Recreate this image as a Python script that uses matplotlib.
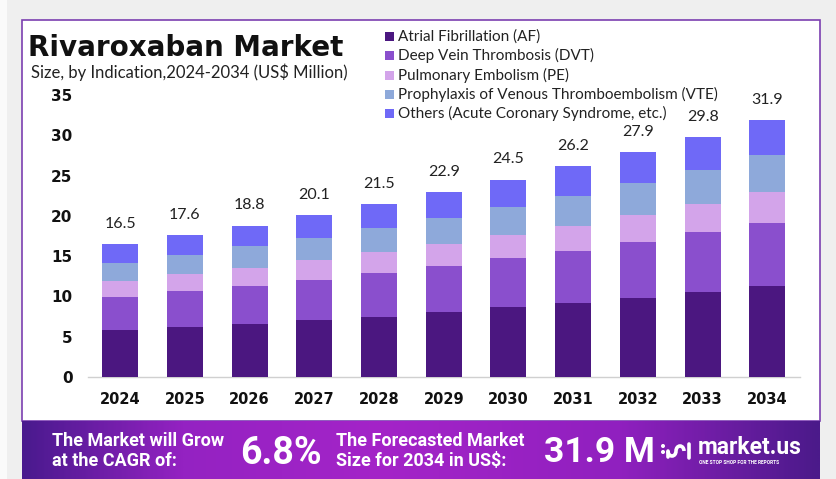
import numpy as np
import matplotlib
matplotlib.use("Agg")
import matplotlib.pyplot as plt
from matplotlib.patches import Rectangle, Arc, Circle
from matplotlib.colors import LinearSegmentedColormap

# ---------------- data ----------------
years = ["2024", "2025", "2026", "2027", "2028", "2029", "2030", "2031", "2032", "2033", "2034"]
af = [5.85, 6.22, 6.55, 7.05, 7.50, 8.05, 8.65, 9.20, 9.79, 10.53, 11.28]
dvt = [4.05, 4.44, 4.75, 5.02, 5.36, 5.72, 6.11, 6.50, 7.00, 7.43, 7.87]
pe = [2.00, 2.11, 2.20, 2.43, 2.61, 2.78, 2.92, 3.10, 3.30, 3.54, 3.82]
vte = [2.30, 2.43, 2.70, 2.75, 3.03, 3.19, 3.42, 3.70, 4.00, 4.20, 4.53]
others = [2.30, 2.40, 2.60, 2.85, 3.00, 3.16, 3.40, 3.70, 3.81, 4.13, 4.40]
totals = [16.5, 17.6, 18.8, 20.1, 21.5, 22.9, 24.5, 26.2, 27.9, 29.8, 31.9]
series_names = ["Atrial Fibrillation (AF)", "Deep Vein Thrombosis (DVT)",
                "Pulmonary Embolism (PE)", "Prophylaxis of Venous Thromboembolism (VTE)",
                "Others (Acute Coronary Syndrome, etc.)"]
yticks = [0, 5, 10, 15, 20, 25, 30, 35]
cagr_text = "6.8%"
forecast_text = "31.9 M"

colors = ["#4b1780", "#8a4fcd", "#d3a4ea", "#8ea9da", "#6f69f7"]

W, H = 836, 479
fig = plt.figure(figsize=(W / 100, H / 100), dpi=100)
fig.patch.set_facecolor("#efefef")

def fx(px):
    return px / W

def fy(py):
    return 1 - py / H

# left white strip
fig.patches.append(Rectangle((0, 0), fx(7), 1, transform=fig.transFigure,
                             facecolor="#fafafa", edgecolor="none", zorder=-2))
# white panel with purple border
fig.patches.append(Rectangle((fx(22), fy(421)), fx(820 - 22), (421 - 20) / H,
                             transform=fig.transFigure, facecolor="white",
                             edgecolor="#7b3fb0", linewidth=1.2, zorder=-1))

# ---------------- main axes ----------------
ax = fig.add_axes([fx(87.7), fy(377), fx(799.7 - 87.7), (377 - 95) / H])
ax.set_facecolor("none")
ax.set_zorder(2)
x = np.arange(len(years))
bw = 0.556
bottom = np.zeros(len(years))
for vals, c, name in zip([af, dvt, pe, vte, others], colors, series_names):
    ax.bar(x, vals, bw, bottom=bottom, color=c, label=name, zorder=3)
    bottom += np.array(vals)

for xi, t, b in zip(x, totals, bottom):
    ax.annotate(f"{t}", (xi, b), xytext=(0, 14.5), textcoords="offset points",
                ha="center", va="center", fontsize=11.5, color="#222222",
                family="Lato")

ax.set_xlim(-0.5, len(years) - 0.5)
ax.set_ylim(0, 35)
ax.set_yticks(yticks)
ax.set_yticklabels([str(v) for v in yticks], fontsize=11, fontweight="bold",
                   family="DejaVu Sans", color="#111111")
ax.set_xticks(x)
ax.set_xticklabels(years, fontsize=10.5, fontweight="bold", family="DejaVu Sans",
                   color="#111111")
ax.tick_params(axis="both", length=0)
ax.tick_params(axis="y", pad=11)
ax.tick_params(axis="x", pad=11)
for s in ["top", "right", "left"]:
    ax.spines[s].set_visible(False)
ax.spines["bottom"].set_color("#d0d0d0")
ax.spines["bottom"].set_linewidth(1)

# ---------------- title ----------------
fig.text(fx(28), fy(48), "Rivaroxaban Market", fontsize=20, fontweight="bold",
         family="DejaVu Sans", color="#111111", va="center", ha="left")
fig.text(fx(31), fy(72), "Size, by Indication,2024-2034 (US$ Million)", fontsize=12,
         family="Lato", color="#222222", va="center", ha="left")

# ---------------- legend ----------------
leg_y0 = 36.7
leg_dy = 19.2
for i, (name, c) in enumerate(zip(series_names, colors)):
    yy = leg_y0 + i * leg_dy
    fig.patches.append(Rectangle((fx(385), fy(yy + 4.5)), fx(9), 9 / H,
                                 transform=fig.transFigure, facecolor=c,
                                 edgecolor="none", zorder=5))
    fig.text(fx(398), fy(yy), name, fontsize=11, family="Lato", color="#222222",
             va="center", ha="left")

# ---------------- banner ----------------
bx = fig.add_axes([fx(22), 0, fx(820 - 22), fy(421)])
grad_cmap = LinearSegmentedColormap.from_list(
    "banner", [(0.0, "#4a1a8e"), (0.2, "#9422c2"), (0.45, "#a424c8"),
               (0.75, "#9020bf"), (1.0, "#4b1a8a")])
grad = np.linspace(0, 1, 400).reshape(1, -1)
bx.imshow(grad, aspect="auto", cmap=grad_cmap, extent=[22, 820, 479, 421])
bx.set_xlim(22, 820)
bx.set_ylim(479, 421)
bx.axis("off")

tkw = dict(color="white", fontweight="bold", family="Roboto")
bx.text(52, 441, "The Market will Grow", fontsize=13, va="center", ha="left", **tkw)
bx.text(52, 461, "at the CAGR of:", fontsize=13, va="center", ha="left", **tkw)
bx.text(240, 453, cagr_text, fontsize=27, va="center", ha="left", **tkw)
bx.text(336, 441, "The Forecasted Market", fontsize=13, va="center", ha="left", **tkw)
bx.text(336, 461, "Size for 2034 in US$:", fontsize=13, va="center", ha="left", **tkw)
bx.text(544, 453, forecast_text, fontsize=25.5, va="center", ha="left", **tkw)

# logo
bx.add_patch(Arc((672, 451), 8, 10, theta1=0, theta2=180, color="white", lw=2.6))
bx.add_patch(Arc((680, 451), 8, 10, theta1=180, theta2=360, color="white", lw=2.6))
bx.plot([668, 668], [451, 457], color="white", lw=2.6, solid_capstyle="round")
bx.plot([689, 689], [444, 458], color="white", lw=2.6, solid_capstyle="round")
bx.add_patch(Circle((663, 446), 1.3, color="white"))
bx.add_patch(Circle((663, 452), 1.3, color="white"))
bx.text(698, 448, "market.us", fontsize=16.5, va="center", ha="left", **tkw)
bx.text(699, 462, "ONE STOP SHOP FOR THE REPORTS", fontsize=3.5, va="center",
        ha="left", **tkw)

fig.savefig("out.png", dpi=100, facecolor=fig.get_facecolor())
